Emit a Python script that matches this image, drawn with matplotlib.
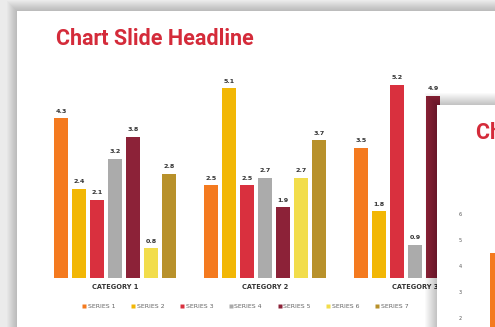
import numpy as np
import matplotlib
matplotlib.use("Agg")
import matplotlib.pyplot as plt
from matplotlib.patches import Rectangle
from matplotlib.lines import Line2D

# ── Data ─────────────────────────────────────────────────────────────────────
categories = ["CATEGORY 1", "CATEGORY 2", "CATEGORY 3"]
series_names = ["SERIES 1", "SERIES 2", "SERIES 3", "SERIES 4",
                "SERIES 5", "SERIES 6", "SERIES 7"]
series_1 = [4.3, 2.5, 3.5]
series_2 = [2.4, 5.1, 1.8]
series_3 = [2.1, 2.5, 5.2]
series_4 = [3.2, 2.7, 0.9]
series_5 = [3.8, 1.9, 4.9]
series_6 = [0.8, 2.7, 2.2]
series_7 = [2.8, 3.7, 3.1]

# second slide peeking in from the right
back_ticks = [2, 3, 4, 5, 6]
back_values = [4.5]

# ── Colors ───────────────────────────────────────────────────────────────────
RED = "#D42B3A"
TEXT = "#333333"
SERIES_COLORS = ["#F47A1F", "#F2B705", "#D9303E", "#ABABAB",
                 "#8C2238", "#F2DD4B", "#B8912B"]
BG = "#EBEBEB"
W, H = 495, 327


def fx(px):
    return px / W


def fy(py):
    return 1 - py / H


def add_shadow(fig, x0, y0, x1, y1, z, steps=10):
    """Soft drop shadow built from stacked translucent rectangles."""
    for k in range(steps, 0, -1):
        fig.patches.append(Rectangle(
            (fx(x0 - k), fy(y1 + k)), fx(x1 - x0 + 2 * k), (y1 - y0 + 2 * k) / H,
            transform=fig.transFigure, facecolor="black", edgecolor="none",
            alpha=0.018, zorder=z))


fig = plt.figure(figsize=(W / 100, H / 100), dpi=100)
fig.patch.set_facecolor(BG)

# main slide
add_shadow(fig, 17, 11, 520, 360, z=1)
fig.patches.append(Rectangle((fx(17), fy(360)), fx(520 - 17), 349 / H,
                             transform=fig.transFigure, facecolor="white",
                             edgecolor="none", zorder=2))
fig.text(fx(56), fy(39), "Chart Slide Headline", color=RED, fontsize=15.5,
         fontweight="bold", family="Roboto", ha="left", va="center", zorder=3.5)

ax = fig.add_axes([fx(40), fy(278), fx(450), 6 * 37.2 / H])
ax.set_zorder(3)
ax.patch.set_visible(False)
for s in ax.spines.values():
    s.set_visible(False)

x = np.arange(len(categories))
pitch, width = 0.12, 0.087
all_series = [series_1, series_2, series_3, series_4, series_5, series_6, series_7]
for i, (vals, color) in enumerate(zip(all_series, SERIES_COLORS)):
    pos = x + (i - 3) * pitch
    bars = ax.bar(pos, vals, width=width, color=color, edgecolor="none")
    for bar, v in zip(bars, vals):
        ax.text(bar.get_x() + bar.get_width() / 2, v + 0.12, f"{v}",
                ha="center", va="bottom", fontsize=4.6, fontweight="bold",
                color=TEXT)

ax.set_xlim(-0.5, 2.5)
ax.set_ylim(0, 6)
ax.set_yticks([])
ax.set_xticks(x)
ax.set_xticklabels(categories, fontsize=4.8, fontweight="bold", color=TEXT)
ax.tick_params(axis="x", length=0, pad=4)

handles = [Line2D([], [], marker="s", linestyle="none", markersize=2.4,
                  markerfacecolor=c, markeredgecolor="none")
           for c in SERIES_COLORS]
ax.legend(handles, series_names, loc="center", ncol=7, frameon=False,
          bbox_to_anchor=(fx(245), fy(306)), bbox_transform=fig.transFigure,
          fontsize=4.5, labelcolor="#666666", handletextpad=0.2,
          columnspacing=2.4, handlelength=0.8)

# second slide on top, cut off by the right edge
add_shadow(fig, 437, 105, 540, 360, z=4, steps=12)
fig.patches.append(Rectangle((fx(437), fy(360)), fx(540 - 437), 255 / H,
                             transform=fig.transFigure, facecolor="white",
                             edgecolor="none", zorder=5))
fig.text(fx(476), fy(133), "Chart Slide Headline", color=RED, fontsize=15.5,
         fontweight="bold", family="Roboto", ha="left", va="center", zorder=7)

ax2 = fig.add_axes([fx(467), fy(370), fx(90), 7 * 26 / H])
ax2.set_zorder(6)
ax2.patch.set_visible(False)
for s in ax2.spines.values():
    s.set_visible(False)
ax2.bar([0], back_values, width=0.6, align="edge", color=SERIES_COLORS[0],
        edgecolor="none")
ax2.set_xlim(-1, 3)
ax2.set_ylim(0, 7)
ax2.set_xticks([])
ax2.set_yticks(back_ticks)
ax2.set_yticklabels([str(t) for t in back_ticks], fontsize=3.5, color="#555555")
ax2.tick_params(axis="y", length=0, pad=4)

fig.savefig("out.png", dpi=100, facecolor=BG)
